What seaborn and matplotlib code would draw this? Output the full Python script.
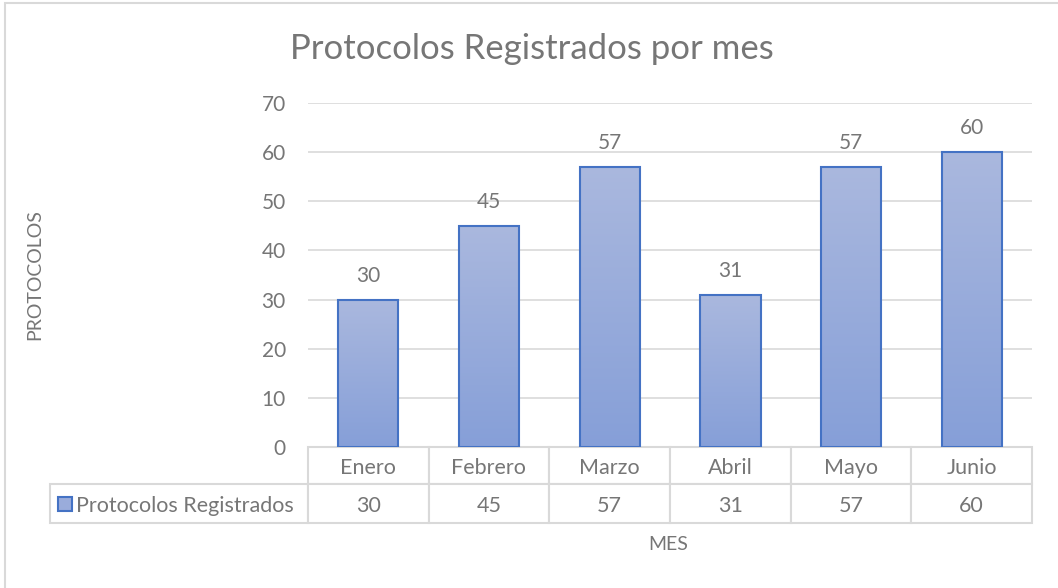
import numpy as np
import pandas as pd
import matplotlib
matplotlib.use('Agg')
import matplotlib.pyplot as plt
import seaborn as sns
from matplotlib.patches import Rectangle
from matplotlib.colors import LinearSegmentedColormap

# data
meses = ['Enero', 'Febrero', 'Marzo', 'Abril', 'Mayo', 'Junio']
protocolos = [30, 45, 57, 31, 57, 60]
serie = 'Protocolos Registrados'
yticks = [0, 10, 20, 30, 40, 50, 60, 70]

sns.set_style('white')
plt.rcParams['font.family'] = ['Lato', 'DejaVu Sans']

gris = '#767676'
linea = '#D9D9D9'
borde_barra = '#4472C4'
degradado = LinearSegmentedColormap.from_list('barra', ['#869FD8', '#AAB8DE'])

W, H = 1058, 588
fig = plt.figure(figsize=(W / 100, H / 100), dpi=100)
ax = fig.add_axes([308 / W, 1 - 447 / H, 724 / W, 344 / H])

df = pd.DataFrame({'mes': meses, 'n': protocolos})
sns.barplot(data=df, x='mes', y='n', ax=ax, width=0.5, color='#9AAEDC',
            edgecolor=borde_barra, linewidth=1.5, zorder=3)

# vertical gradient fill inside each bar
grad = np.linspace(0, 1, 256).reshape(-1, 1)
for p in list(ax.patches):
    x0, y0 = p.get_x(), p.get_y()
    x1, y1 = x0 + p.get_width(), y0 + p.get_height()
    im = ax.imshow(grad, extent=[x0, x1, y0, y1], origin='lower',
                   aspect='auto', cmap=degradado, zorder=3)
    im.set_clip_path(p)
    p.set_facecolor('none')
    p.set_zorder(4)

ax.bar_label(ax.containers[0], padding=10, fontsize=15, color=gris)

ax.set_xlim(-0.5, len(meses) - 0.5)
ax.set_ylim(0, 70)
ax.set_yticks(yticks)
ax.set_xticks([])
ax.set_xlabel('')
ax.set_ylabel('')
ax.yaxis.grid(True, color=linea, linewidth=1.2, zorder=0)
ax.set_axisbelow(True)
for s in ax.spines.values():
    s.set_visible(False)
ax.tick_params(axis='y', length=0, pad=16, labelsize=15, labelcolor=gris)

# data table under the plot
tbl = ax.table(cellText=[[str(v) for v in protocolos]], rowLabels=[serie],
               colLabels=meses, cellLoc='center', rowLoc='left',
               bbox=[0, -76 / 344, 1, 76 / 344])
tbl.auto_set_font_size(False)
tbl._autoColumns = []  # keep the fixed width of the row-label column
for (r, c), cell in tbl.get_celld().items():
    cell.set_width((258 if c == -1 else 120.7) / 724)
    cell.set_height((37 if r == 0 else 39) / 344)
    cell.set_edgecolor(linea)
    cell.set_linewidth(1.5)
    cell.get_text().set_fontsize(15.5)
    cell.get_text().set_color(gris)
    cell.get_text().set_va('center_baseline')

# legend key in the table
fig.add_artist(Rectangle((58 / W, 1 - 511 / H), 14 / W, 14 / H, transform=fig.transFigure,
                         facecolor='#9AACDB', edgecolor=borde_barra, linewidth=1.5))

fig.text(532 / W, 1 - 49 / H, 'Protocolos Registrados por mes', fontsize=25,
         color=gris, ha='center', va='center')
fig.text(35 / W, 1 - 275 / H, 'PROTOCOLOS', rotation=90, fontsize=14,
         color=gris, ha='center', va='center')
fig.text(668 / W, 1 - 545 / H, 'MES', fontsize=14, color=gris, ha='center', va='center')

# chart area border
fig.add_artist(Rectangle((4.5 / W, -0.1), 1.2, 1.1 - 3.5 / H, transform=fig.transFigure,
                         fill=False, edgecolor=linea, linewidth=1.5))

fig.savefig('out.png', dpi=100)
